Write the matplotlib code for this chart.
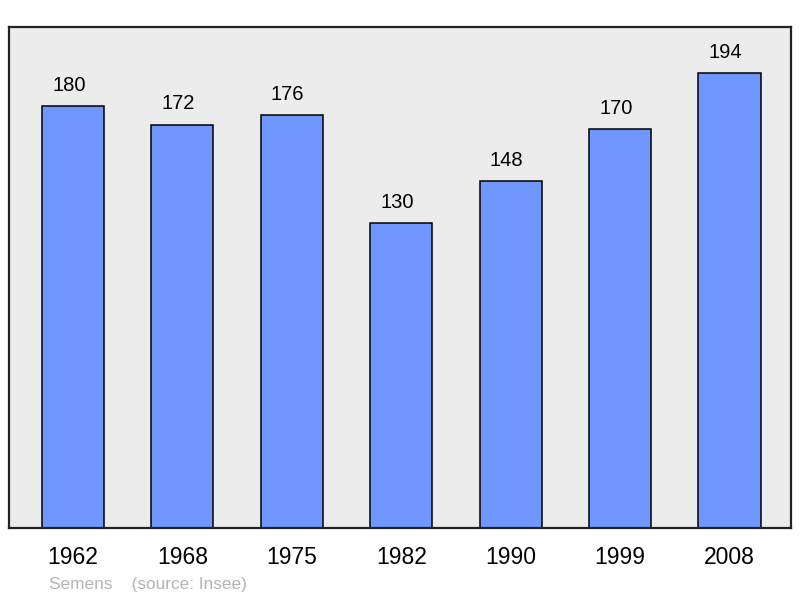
import numpy as np
import matplotlib.pyplot as plt

plt.rcParams['font.family'] = ['Liberation Sans', 'DejaVu Sans']

years = ['1962', '1968', '1975', '1982', '1990', '1999', '2008']
population = [180, 172, 176, 130, 148, 170, 194]

fig = plt.figure(figsize=(8, 5.98), dpi=100)
ax = fig.add_axes([0.01125, 0.117, 0.9775, 0.838])
ax.set_facecolor('#ececec')

x = np.arange(len(years))
bars = ax.bar(x, population, width=0.568, color='#7096ff', edgecolor='black', linewidth=1.1)

for xi, v in zip(x, population):
    ax.annotate(str(v), (xi, v), xytext=(-3, 8), textcoords='offset points',
                ha='center', va='bottom', fontsize=14.5)

ax.set_xlim(-0.585, 6.562)
ax.set_ylim(0, 213.6)
ax.set_xticks(x)
ax.set_xticklabels(years, fontsize=16.5)
ax.tick_params(axis='x', length=0, pad=13)
ax.set_yticks([])
for s in ax.spines.values():
    s.set_linewidth(1.6)
    s.set_color('#222222')

fig.text(49 / 800, 1 - 584 / 598, 'Semens    (source: Insee)', color='#b4b4b4',
         fontsize=12.4, ha='left', va='center')

fig.savefig('out.png', dpi=100)
